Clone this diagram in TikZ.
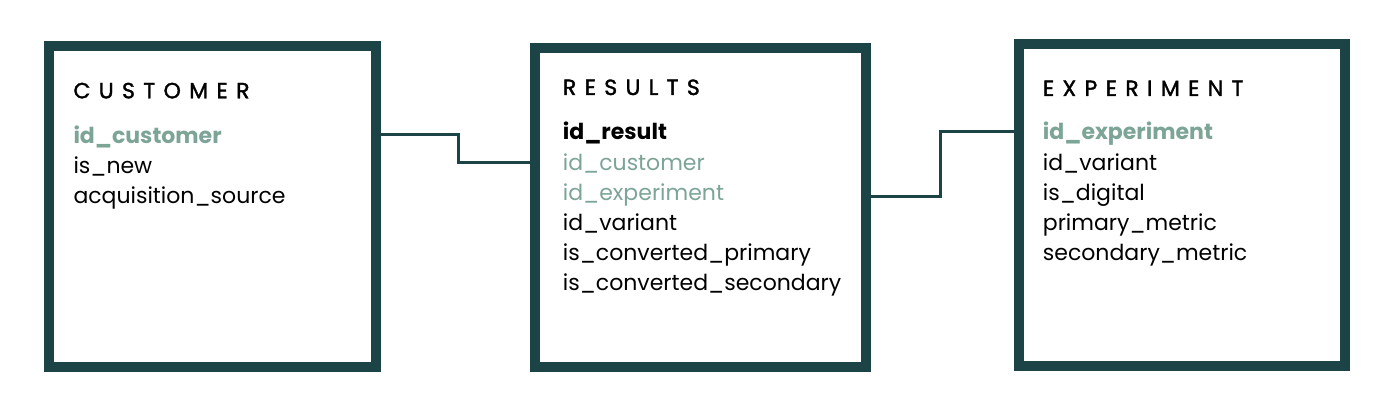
\documentclass[tikz,border=0pt]{standalone}
\usepackage{fontspec}
\setmainfont{Poppins}
\newfontfamily\titlefont[LetterSpace=38,FakeBold=1.6]{Poppins}
\definecolor{frame}{HTML}{1C4346}
\definecolor{sage}{HTML}{7DA595}
\begin{document}
\begin{tikzpicture}[x=1pt,y=-1pt,
  tbox/.style={draw=frame,line width=10pt,fill=white,inner sep=0pt,outer sep=0pt,anchor=north west},
  conn/.style={draw=frame,line width=3pt},
  ttl/.style={anchor=base west,inner sep=0pt,font=\titlefont\fontsize{22}{26}\selectfont,text=black},
  fld/.style={anchor=base west,inner sep=0pt,font=\fontsize{22}{26}\selectfont,text=black},
  key/.style={fld,font=\fontsize{22}{26}\selectfont\bfseries,text=sage},
  pk/.style={fld,font=\fontsize{22}{26}\selectfont\bfseries},
  fk/.style={fld,text=sage}]
\useasboundingbox (0,0) rectangle (1400,417);
\fill[white] (0,0) rectangle (1400,417);
% boxes
\node[tbox,minimum width=327pt,minimum height=321pt] (b1) at (49,46) {};
\node[tbox,minimum width=330.7pt,minimum height=318.4pt] (b2) at (535,48.3) {};
\node[tbox,minimum width=325.7pt,minimum height=322pt] (b3) at (1019.3,44) {};
% connectors
\coordinate (k1) at (458.3,135);
\coordinate (k2) at (458.3,162.7);
\coordinate (k3) at (940.7,196.7);
\coordinate (k4) at (940.7,131.7);
\draw[conn] (b1.east |- k1) -- (k1) -- (k2) -- (b2.west |- k2);
\draw[conn] (b2.east |- k3) -- (k3) -- (k4) -- (b3.west |- k4);
% customer
\node[ttl] (t1) at (73.3,98.3) {CUSTOMER};
\node[key] (c1) at (73.3,143.3) {id\_customer};
\node[fld] (c2) at (73.3,173.3) {is\_new};
\node[fld] (c3) at (73.3,203.3) {acquisition\_source};
% results
\node[ttl] (t2) at (562.7,95) {RESULTS};
\node[pk] (r1) at (562.7,140) {id\_result};
\node[fk] (r2) at (562.7,170) {id\_customer};
\node[fk] (r3) at (562.7,200) {id\_experiment};
\node[fld] (r4) at (562.7,230) {id\_variant};
\node[fld] (r5) at (562.7,260) {is\_converted\_primary};
\node[fld] (r6) at (562.7,290) {is\_converted\_secondary};
% experiment
\node[ttl] (t3) at (1042.7,96) {EXPERIMENT};
\node[key] (e1) at (1042.7,140) {id\_experiment};
\node[fld] (e2) at (1042.7,170) {id\_variant};
\node[fld] (e3) at (1042.7,200) {is\_digital};
\node[fld] (e4) at (1042.7,230) {primary\_metric};
\node[fld] (e5) at (1042.7,260) {secondary\_metric};
\end{tikzpicture}
\end{document}
